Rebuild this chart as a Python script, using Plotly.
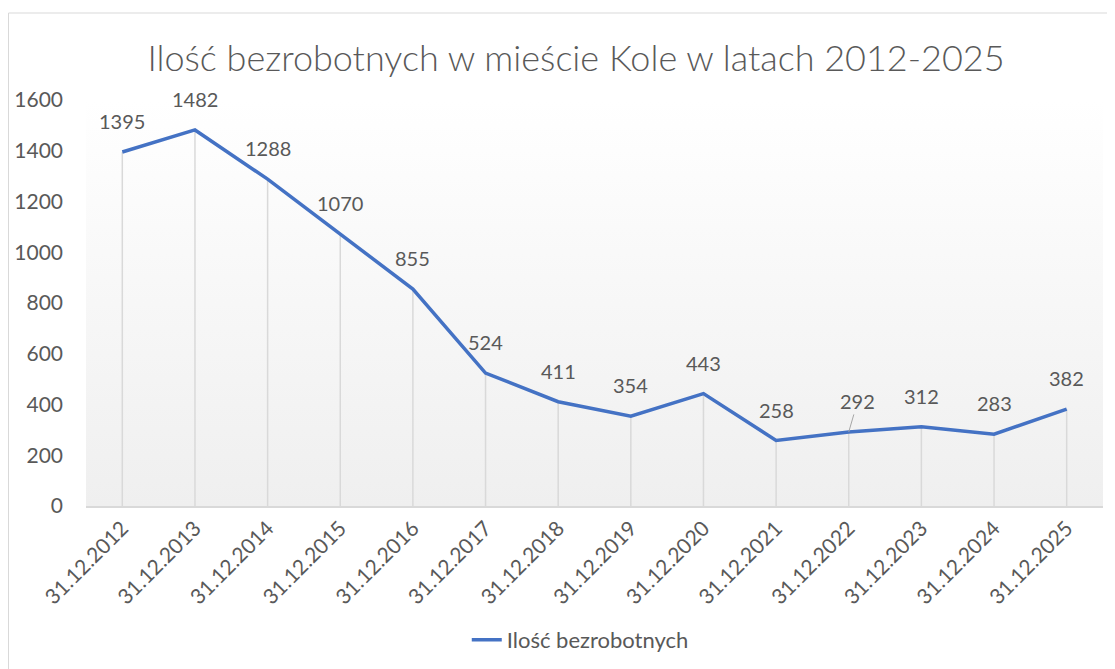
import plotly.graph_objects as go

categories = ["31.12.2012", "31.12.2013", "31.12.2014", "31.12.2015", "31.12.2016",
              "31.12.2017", "31.12.2018", "31.12.2019", "31.12.2020", "31.12.2021",
              "31.12.2022", "31.12.2023", "31.12.2024", "31.12.2025"]
values = [1395, 1482, 1288, 1070, 855, 524, 411, 354, 443, 258, 292, 312, 283, 382]
series_name = "Ilość bezrobotnych"
title_text = "Ilość bezrobotnych w mieście Kole w latach 2012-2025"
y_ticks = [0, 200, 400, 600, 800, 1000, 1200, 1400, 1600]

FONT = "Lato"
GRAY = "#595959"
n = len(categories)
xs = list(range(n))
ymax = y_ticks[-1]

fig = go.Figure()

# plot-area gradient background
fig.add_trace(go.Scatter(
    x=[-0.5, n - 0.5, n - 0.5, -0.5, -0.5], y=[0, 0, ymax, ymax, 0],
    mode="lines", line=dict(width=0), fill="toself",
    fillgradient=dict(type="vertical", colorscale=[[0, "#efefef"], [1, "#ffffff"]]),
    hoverinfo="skip", showlegend=False))

# drop lines
dx, dy = [], []
for i, v in zip(xs, values):
    dx += [i, i, None]
    dy += [0, v, None]
fig.add_trace(go.Scatter(x=dx, y=dy, mode="lines",
                         line=dict(color="#d9d9d9", width=1.5),
                         hoverinfo="skip", showlegend=False))

fig.add_trace(go.Scatter(x=xs, y=values, mode="lines", name=series_name,
                         line=dict(color="#4472C4", width=3.5)))

for i, v in zip(xs, values):
    if v == 292:
        fig.add_annotation(x=i, y=v, text=str(v), showarrow=True, arrowhead=0,
                           arrowwidth=1, arrowcolor="#a6a6a6", ax=9, ay=-31,
                           font=dict(family=FONT, size=20, color=GRAY))
    else:
        fig.add_annotation(x=i, y=v, text=str(v), showarrow=False, yshift=31,
                           font=dict(family=FONT, size=20, color=GRAY))

fig.add_shape(type="rect", xref="paper", yref="paper",
              x0=(0.5 - 78)/1017, x1=1 + 5/1017, y0=-0.5, y1=1 + 87/406,
              line=dict(color="#d9d9d9", width=1), layer="below")

fig.update_layout(
    width=1115, height=669,
    margin=dict(l=78, r=20, t=92, b=171, autoexpand=False),
    paper_bgcolor="white", plot_bgcolor="white",
    title=dict(text=title_text, x=568/1115, xanchor="center", y=1 - 50/669, yanchor="middle",
               font=dict(family=FONT, size=36, color=GRAY, weight=300)),
    xaxis=dict(range=[-0.5, n - 0.5], tickmode="array", tickvals=xs, ticktext=categories,
               tickangle=-45, showgrid=False, zeroline=False, showline=True,
               linecolor="#d9d9d9", linewidth=1.5, ticks="", automargin=False,
               tickfont=dict(family=FONT, size=21, color=GRAY)),
    yaxis=dict(range=[0, ymax], tickmode="array", tickvals=y_ticks, showgrid=False,
               zeroline=False, showline=False, ticks="", ticklabelstandoff=22,
               automargin=False,
               tickfont=dict(family=FONT, size=21, color=GRAY)),
    showlegend=True,
    legend=dict(orientation="h", x=0.486, xanchor="center", y=-0.33, yanchor="middle",
                font=dict(family=FONT, size=22, color=GRAY), bgcolor="rgba(0,0,0,0)"),
)

fig.write_html("out.html")
